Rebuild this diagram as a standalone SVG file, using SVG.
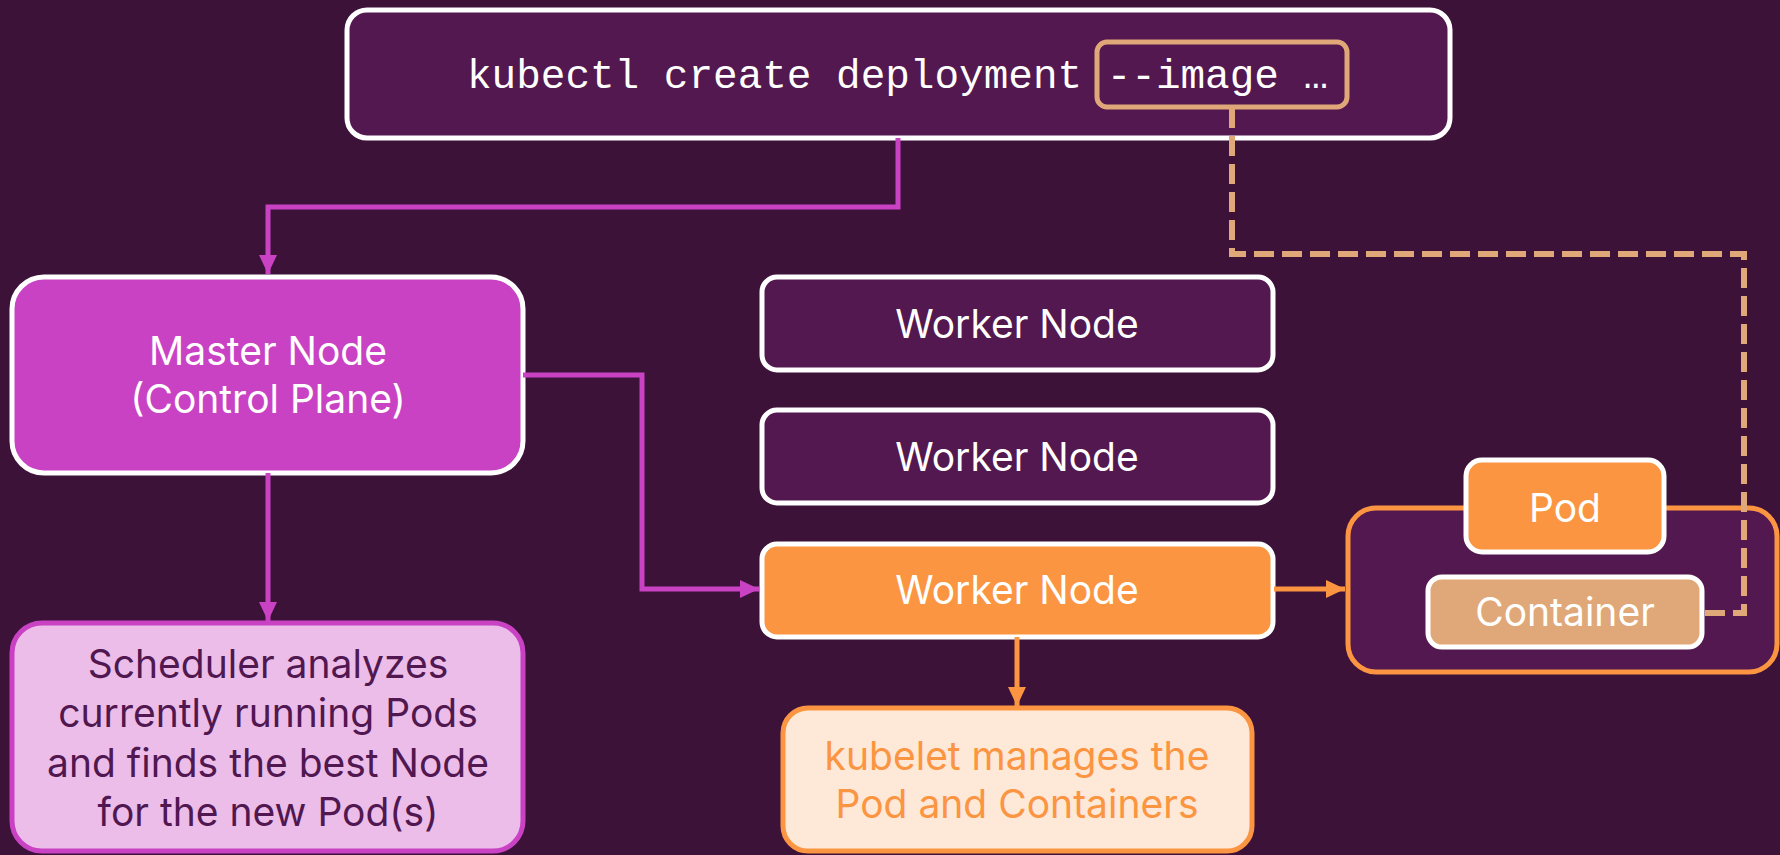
<svg xmlns="http://www.w3.org/2000/svg" width="1780" height="855" viewBox="0 0 1780 855">
  <style>
    .sans { font-family: Inter, "Open Sans", "Liberation Sans", sans-serif; font-size: 39px; text-anchor: middle; }
    .mono { font-family: "Liberation Mono", "DejaVu Sans Mono", monospace; font-size: 41px; fill: #ffffff; }
    .white { fill: #ffffff; }
    .dark-box { fill: #52184F; stroke: #ffffff; stroke-width: 5; }
    .orange-box { fill: #FB9541; stroke: #ffffff; stroke-width: 5; }
    .pink-link { fill: none; stroke: #C942C4; stroke-width: 5; }
    .orange-link { fill: none; stroke: #FB9541; stroke-width: 5; }
    .dash-link { fill: none; stroke: #E0A878; stroke-width: 6; stroke-dasharray: 20 8; }
  </style>
  <defs>
    <marker id="arrow-pink" markerUnits="userSpaceOnUse" markerWidth="20" markerHeight="20" viewBox="0 0 20 20" refX="19" refY="10" orient="auto">
      <path d="M0,1 L19,10 L0,19 z" fill="#C942C4"/>
    </marker>
    <marker id="arrow-orange" markerUnits="userSpaceOnUse" markerWidth="20" markerHeight="20" viewBox="0 0 20 20" refX="19" refY="10" orient="auto">
      <path d="M0,1 L19,10 L0,19 z" fill="#FB9541"/>
    </marker>
  </defs>

  <rect x="0" y="0" width="1780" height="855" fill="#3D1239"/>

  <!-- kubectl command -->
  <g id="command">
    <rect x="347" y="10" width="1103" height="128" rx="20" class="dark-box"/>
    <rect x="1097" y="42" width="250" height="65" rx="10" fill="none" stroke="#E0A878" stroke-width="5"/>
    <text x="467" y="88" class="mono">kubectl create deployment --image …</text>
  </g>

  <!-- control plane -->
  <g id="master-node">
    <rect x="12" y="277" width="511" height="196" rx="32" fill="#C942C4" stroke="#ffffff" stroke-width="5"/>
    <text x="268" y="365" class="sans white">Master Node</text>
    <text x="268" y="413" class="sans white">(Control Plane)</text>
  </g>

  <g id="scheduler">
    <rect x="12" y="623" width="511" height="228" rx="30" fill="#ECBDE9" stroke="#C942C4" stroke-width="5"/>
    <text x="268" y="678" class="sans" fill="#501750">Scheduler analyzes</text>
    <text x="268" y="727" class="sans" fill="#501750">currently running Pods</text>
    <text x="268" y="777" class="sans" fill="#501750">and finds the best Node</text>
    <text x="268" y="826" class="sans" fill="#501750">for the new Pod(s)</text>
  </g>

  <!-- worker nodes -->
  <g id="worker-node-1">
    <rect x="762" y="277" width="511" height="93" rx="15" class="dark-box"/>
    <text x="1017" y="338" class="sans white">Worker Node</text>
  </g>
  <g id="worker-node-2">
    <rect x="762" y="410" width="511" height="93" rx="15" class="dark-box"/>
    <text x="1017" y="471" class="sans white">Worker Node</text>
  </g>
  <g id="worker-node-3">
    <rect x="762" y="544" width="511" height="93" rx="15" class="orange-box"/>
    <text x="1017" y="604" class="sans white">Worker Node</text>
  </g>

  <g id="kubelet">
    <rect x="783" y="708" width="469" height="143" rx="25" fill="#FEE8D8" stroke="#FB9541" stroke-width="5"/>
    <text x="1017" y="770" class="sans" fill="#FB9541">kubelet manages the</text>
    <text x="1017" y="818" class="sans" fill="#FB9541">Pod and Containers</text>
  </g>

  <!-- pod with its container -->
  <g id="pod-group">
    <rect x="1348" y="508" width="429" height="164" rx="28" fill="#52184F" stroke="#FB9541" stroke-width="5"/>
  </g>
  <g id="pod">
    <rect x="1466" y="460" width="198" height="92" rx="16" class="orange-box"/>
    <text x="1565" y="522" class="sans white">Pod</text>
  </g>
  <g id="container">
    <rect x="1428" y="577" width="274" height="70" rx="14" fill="#E0A878" stroke="#ffffff" stroke-width="5"/>
    <text x="1565" y="626" class="sans white">Container</text>
  </g>

  <!-- connectors, drawn over the boxes -->
  <g id="connectors">
    <path class="pink-link" d="M898,138 V207 H268 V274" marker-end="url(#arrow-pink)"/>
    <path class="pink-link" d="M523,375 H642 V589 H759" marker-end="url(#arrow-pink)"/>
    <path class="pink-link" d="M268,473 V621" marker-end="url(#arrow-pink)"/>
    <path class="orange-link" d="M1017,637 V706" marker-end="url(#arrow-orange)"/>
    <path class="orange-link" d="M1274,589 H1345" marker-end="url(#arrow-orange)"/>
    <path class="dash-link" d="M1232,108 V254 H1744 V613 H1704"/>
  </g>
</svg>
